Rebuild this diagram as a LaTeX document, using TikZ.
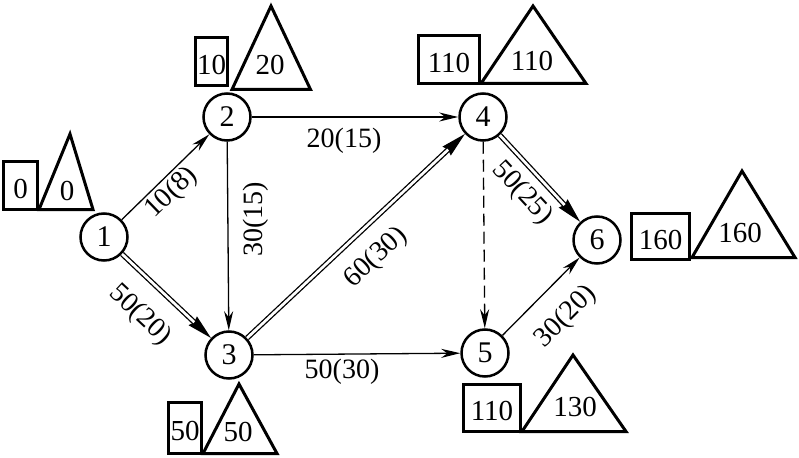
\documentclass[tikz,border=0pt]{standalone}
\usepackage{fontspec}
\setmainfont{Liberation Serif}
\usetikzlibrary{arrows.meta,calc}
\begin{document}
\begin{tikzpicture}[x=1pt,y=-1pt,
  vtx/.style={circle,draw,line width=2.5pt,minimum size=47pt,inner sep=0pt,font=\fontsize{30}{30}\selectfont},
  tbox/.style={draw,line width=3pt,inner sep=0pt,text height=25.5pt,text depth=0pt,font=\fontsize{29}{29}\selectfont},
  ttxt/.style={inner sep=0pt,font=\fontsize{29}{29}\selectfont},
  lbl/.style={inner sep=0pt,font=\fontsize{28}{28}\selectfont},
  tri/.style={line width=3pt,line join=miter},
  arr/.style={line width=1.3pt,-{Stealth[length=19pt,width=9pt,inset=6pt]}},
  fillarr/.style={line width=1.3pt,-{Stealth[length=25pt,width=12pt,inset=2pt]}},
  dbl/.style={double,double distance=2.7pt,line width=1.3pt,shorten >=23pt},
  dsh/.style={arr,dash pattern=on 12pt off 6pt}
]
\useasboundingbox (0,0) rectangle (799,457);

% vertices
\node[vtx] (1) at (104,237) {1};
\node[vtx] (2) at (227,117) {2};
\node[vtx] (3) at (229,355) {3};
\node[vtx] (4) at (483,117) {4};
\node[vtx] (5) at (485,353) {5};
\node[vtx] (6) at (597,240) {6};

% boxes and triangles
\node[tbox,minimum width=34pt,minimum height=48pt] (b1) at (20.5,185.5) {0};
\draw[tri] (39,209.5) -- (70,134) -- (93,209.5) -- cycle;
\node[ttxt] (t1) at (67,191) {0};

\node[tbox,minimum width=32pt,minimum height=48pt] (b2) at (211.5,61.5) {10};
\draw[tri] (232,89.5) -- (271,6) -- (310.5,89.5) -- cycle;
\node[ttxt] (t2) at (270,65) {20};

\node[tbox,minimum width=61pt,minimum height=48pt] (b4) at (449,59.5) {110};
\draw[tri] (481,83.5) -- (533,6) -- (586,83.5) -- cycle;
\node[ttxt] (t4) at (532,61) {110};

\node[tbox,minimum width=58pt,minimum height=46pt] (b6) at (660.5,236.5) {160};
\draw[tri] (692,257.5) -- (742,171) -- (795,257.5) -- cycle;
\node[ttxt] (t6) at (740,233) {160};

\node[tbox,minimum width=33pt,minimum height=51pt] (b3) at (185,428) {50};
\draw[tri] (203,453.5) -- (239,384) -- (277,453.5) -- cycle;
\node[ttxt] (t3) at (238,432) {50};

\node[tbox,minimum width=57pt,minimum height=47pt] (b5) at (492,408) {110};
\draw[tri] (522,431.5) -- (573,355) -- (626,431.5) -- cycle;
\node[ttxt] (t5) at (575,407) {130};

% edges
\draw[arr] (1) -- (2);
\draw[arr] (2) -- (3);
\draw[arr] (2) -- (4);
\draw[arr] (3) -- (5);
\draw[arr] (5) -- (6);
\draw[dsh] (4) -- (5);
\draw[fillarr] (1) -- (3);
\draw[dbl] (1) -- (3);
\draw[fillarr] (3) -- (4);
\draw[dbl] (3) -- (4);
\draw[fillarr] (4) -- (6);
\draw[dbl] (4) -- (6);

% edge labels
\node[lbl,rotate=44] (l12) at (172,193) {10(8)};
\node[lbl,rotate=-43] (l13) at (140,315) {50(20)};
\node[lbl,rotate=90] (l23) at (256,219) {30(15)};
\node[lbl] (l24) at (344,141) {20(15)};
\node[lbl,rotate=43] (l34) at (376,258) {60(30)};
\node[lbl] (l35) at (342,372) {50(30)};
\node[lbl,rotate=-47] (l46) at (522,193) {50(25)};
\node[lbl,rotate=45] (l56) at (566,317) {30(20)};
\end{tikzpicture}
\end{document}
